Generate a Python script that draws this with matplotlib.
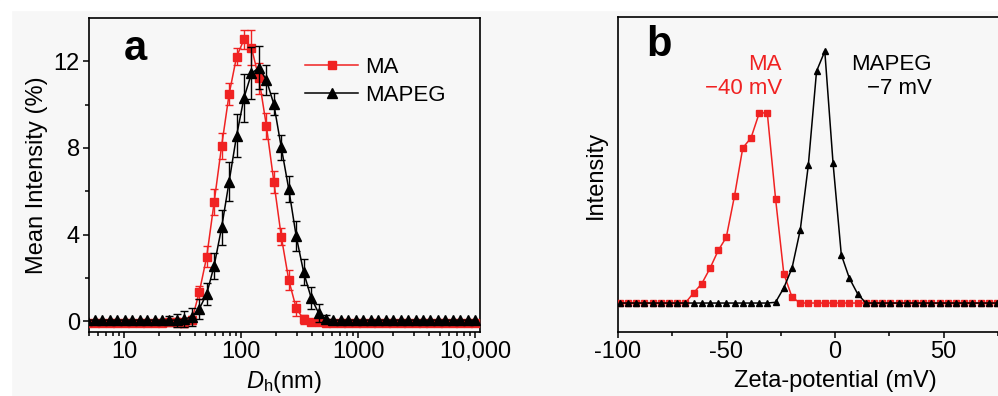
import numpy as np
import matplotlib
matplotlib.use('Agg')
import matplotlib.pyplot as plt
from matplotlib.patches import Rectangle
from matplotlib.ticker import LogLocator, FixedLocator, NullFormatter, NullLocator

plt.rcParams['font.family'] = ['Liberation Sans', 'DejaVu Sans']
plt.rcParams['mathtext.fontset'] = 'custom'
plt.rcParams['mathtext.rm'] = 'Liberation Sans'
plt.rcParams['mathtext.it'] = 'Liberation Sans:italic'
plt.rcParams['axes.unicode_minus'] = False

# panel a - DLS size distribution (Zetasizer size bins, nm)
size_nm = [4.849, 5.615, 6.503, 7.531, 8.721, 10.10, 11.70, 13.54, 15.69, 18.17,
           21.04, 24.36, 28.21, 32.67, 37.84, 43.82, 50.75, 58.77, 68.06, 78.82,
           91.28, 105.7, 122.4, 141.8, 164.2, 190.1, 220.2, 255.0, 295.3, 342.0,
           396.1, 458.7, 531.2, 615.1, 712.4, 825.0, 955.4, 1106, 1281, 1484,
           1718, 1990, 2305, 2669, 3091, 3580, 4145, 4801, 5560, 6439,
           7456, 8635, 10000]
ma_int = [-0.08, -0.08, -0.08, -0.08, -0.08, -0.08, -0.08, -0.08, -0.08, -0.08,
          -0.08, -0.05, -0.05, -0.08, 0.05, 1.34, 2.98, 5.51, 8.10, 10.48,
          12.21, 13.01, 12.63, 11.21, 9.02, 6.44, 3.90, 1.90, 0.60, 0.08,
          -0.02, -0.05, -0.08, -0.08, -0.08, -0.08, -0.08, -0.08, -0.08, -0.08,
          -0.08, -0.08, -0.08, -0.08, -0.08, -0.08, -0.08, -0.08, -0.08, -0.08,
          -0.08, -0.08, -0.08]
ma_err = [0, 0, 0, 0, 0, 0, 0, 0, 0, 0,
          0, 0.15, 0.2, 0.2, 0.2, 0.3, 0.5, 0.6, 0.6, 0.5,
          0.4, 0.45, 0.8, 0.7, 0.6, 0.5, 0.4, 0.45, 0.35, 0.2,
          0.1, 0, 0, 0, 0, 0, 0, 0, 0, 0,
          0, 0, 0, 0, 0, 0, 0, 0, 0, 0,
          0, 0, 0]
mapeg_int = [0.05, 0.05, 0.05, 0.05, 0.05, 0.05, 0.05, 0.05, 0.05, 0.05,
             0.05, 0.05, 0.05, 0.10, 0.20, 0.57, 1.26, 2.57, 4.33, 6.44,
             8.56, 10.32, 11.44, 11.71, 11.14, 10.02, 8.02, 6.10, 3.92, 2.26,
             1.08, 0.38, 0.10, 0.05, 0.05, 0.05, 0.05, 0.05, 0.05, 0.05,
             0.05, 0.05, 0.05, 0.05, 0.05, 0.05, 0.05, 0.05, 0.05, 0.05,
             0.05, 0.05, 0.05]
mapeg_err = [0, 0, 0, 0, 0, 0, 0, 0, 0, 0,
             0, 0.2, 0.3, 0.35, 0.4, 0.45, 0.5, 0.6, 0.8, 0.9,
             1.0, 1.1, 1.2, 1.0, 0.7, 0.5, 0.6, 0.6, 0.7, 0.6,
             0.5, 0.4, 0.2, 0, 0, 0, 0, 0, 0, 0,
             0, 0, 0, 0, 0, 0, 0, 0, 0, 0,
             0, 0, 0]

# panel b - zeta potential distribution
zeta_mv = [-99.2, -95.4, -91.6, -87.9, -84.1, -80.3, -76.5, -72.7, -69.0, -65.2,
           -61.4, -57.6, -53.8, -50.1, -46.3, -42.5, -38.7, -34.9, -31.2, -27.4,
           -23.6, -19.8, -16.0, -12.3, -8.5, -4.7, -0.9, 2.9, 6.6, 10.4,
           14.2, 18.0, 21.8, 25.5, 29.3, 33.1, 36.9, 40.7, 44.4, 48.2,
           52.0, 55.8, 59.6, 63.3, 67.1, 70.9, 74.7, 78.5, 82.2, 86.0, 89.8]
ma_zeta = [0, 0, 0, 0, 0, 0, 0, 0, 0, 4.0,
           7.7, 13.8, 20.9, 26.1, 42.6, 61.6, 65.6, 75.5, 75.5, 41.5,
           11.7, 2.3, 0, 0, 0, 0, 0, 0, 0, 0,
           0, 0, 0, 0, 0, 0, 0, 0, 0, 0,
           0, 0, 0, 0, 0, 0, 0, 0, 0, 0, 0]
mapeg_zeta = [0, 0, 0, 0, 0, 0, 0, 0, 0, 0,
              0, 0, 0, 0, 0, 0, 0, 0, 0, 0.3,
              6.0, 13.9, 29.1, 54.7, 92.1, 100, 55.6, 19.2, 9.9, 3.7,
              0, 0, 0, 0, 0, 0, 0, 0, 0, 0,
              0, 0, 0, 0, 0, 0, 0, 0, 0, 0, 0]

red = '#f02222'
bg = '#f7f7f7'
W, H = 998, 396

fig = plt.figure(figsize=(W / 100, H / 100), dpi=100, facecolor=bg)
# white margin strips at top and left
fig.patches.append(Rectangle((0, 1 - 10 / H), 1, 10 / H, transform=fig.transFigure,
                             color='white', zorder=-5))
fig.patches.append(Rectangle((0, 0), 11 / W, 1, transform=fig.transFigure,
                             color='white', zorder=-5))

def style_axes(ax):
    ax.set_facecolor('none')
    for s in ax.spines.values():
        s.set_linewidth(1.2)
    ax.tick_params(which='both', direction='out', width=1.1, labelsize=17, pad=2)
    ax.tick_params(which='major', length=4.5)
    ax.tick_params(which='minor', length=2.8)

# ---- panel a ----
ax1 = fig.add_axes([89 / W, 1 - 332 / H, (480 - 89) / W, (332 - 18) / H])
style_axes(ax1)
x = np.array(size_nm)
ma = np.array(ma_int)
me = np.array(ma_err)
pg = np.array(mapeg_int)
pe = np.array(mapeg_err)

m = me > 0
ax1.errorbar(x[m], ma[m], yerr=me[m], fmt='none', ecolor=red, elinewidth=1,
             capsize=3, capthick=1, zorder=2)
ax1.plot(x, ma, '-s', color=red, ms=5.5, lw=1.1, label='MA', zorder=3)
m = pe > 0
ax1.errorbar(x[m], pg[m], yerr=pe[m], fmt='none', ecolor='black', elinewidth=1,
             capsize=3, capthick=1, zorder=4)
ax1.plot(x, pg, '-^', color='black', ms=6.5, lw=1.1, label='MAPEG', zorder=5)

ax1.set_xscale('log')
ax1.set_xlim(5, 11000)
ax1.set_ylim(-0.5, 14)
ax1.set_xticks([10, 100, 1000, 10000])
ax1.set_xticklabels(['10', '100', '1000', '10,000'])
ax1.xaxis.set_minor_locator(LogLocator(base=10, subs=np.arange(2, 10)))
ax1.xaxis.set_minor_formatter(NullFormatter())
ax1.set_yticks([0, 4, 8, 12])
ax1.yaxis.set_minor_locator(FixedLocator([2, 6, 10]))
ax1.set_ylabel('Mean Intensity (%)', fontsize=17, labelpad=4)
ax1.set_xlabel(r'$D_\mathrm{h}$(nm)', fontsize=17, labelpad=4)
ax1.text(0.088, 0.965, 'a', transform=ax1.transAxes, fontsize=30, fontweight='bold',
         va='top', ha='left')
ax1.legend(loc='upper left', bbox_to_anchor=(0.53, 0.905), frameon=False, fontsize=16,
           handlelength=2.4, handletextpad=0.3, labelspacing=0.32, borderaxespad=0)

# ---- panel b ----
ax2 = fig.add_axes([618 / W, 1 - 332 / H, 434 / W, (332 - 17) / H])
style_axes(ax2)
ax2.plot(zeta_mv, ma_zeta, '-s', color=red, ms=4, lw=1.1, zorder=3)
ax2.plot(zeta_mv, mapeg_zeta, '-^', color='black', ms=4.8, lw=1.1, zorder=4)
ax2.set_xlim(-100, 100)
ax2.set_ylim(-11.5, 113.6)
ax2.set_xticks([-100, -50, 0, 50])
ax2.xaxis.set_minor_locator(FixedLocator([-75, -25, 25, 75]))
ax2.yaxis.set_major_locator(NullLocator())
ax2.set_ylabel('Intensity', fontsize=17, labelpad=8)
ax2.set_xlabel('Zeta-potential (mV)', fontsize=17, labelpad=5)
ax2.text(0.065, 0.975, 'b', transform=ax2.transAxes, fontsize=30, fontweight='bold',
         va='top', ha='left')
ax2.text(-24.5, 90, 'MA\n\u221240 mV', color=red, fontsize=16, ha='right', va='center',
         linespacing=1.15, multialignment='right')
ax2.text(44.5, 90, 'MAPEG\n\u22127 mV', color='black', fontsize=16, ha='right', va='center',
         linespacing=1.15, multialignment='right')

fig.savefig('out.png', dpi=100, facecolor=bg)
